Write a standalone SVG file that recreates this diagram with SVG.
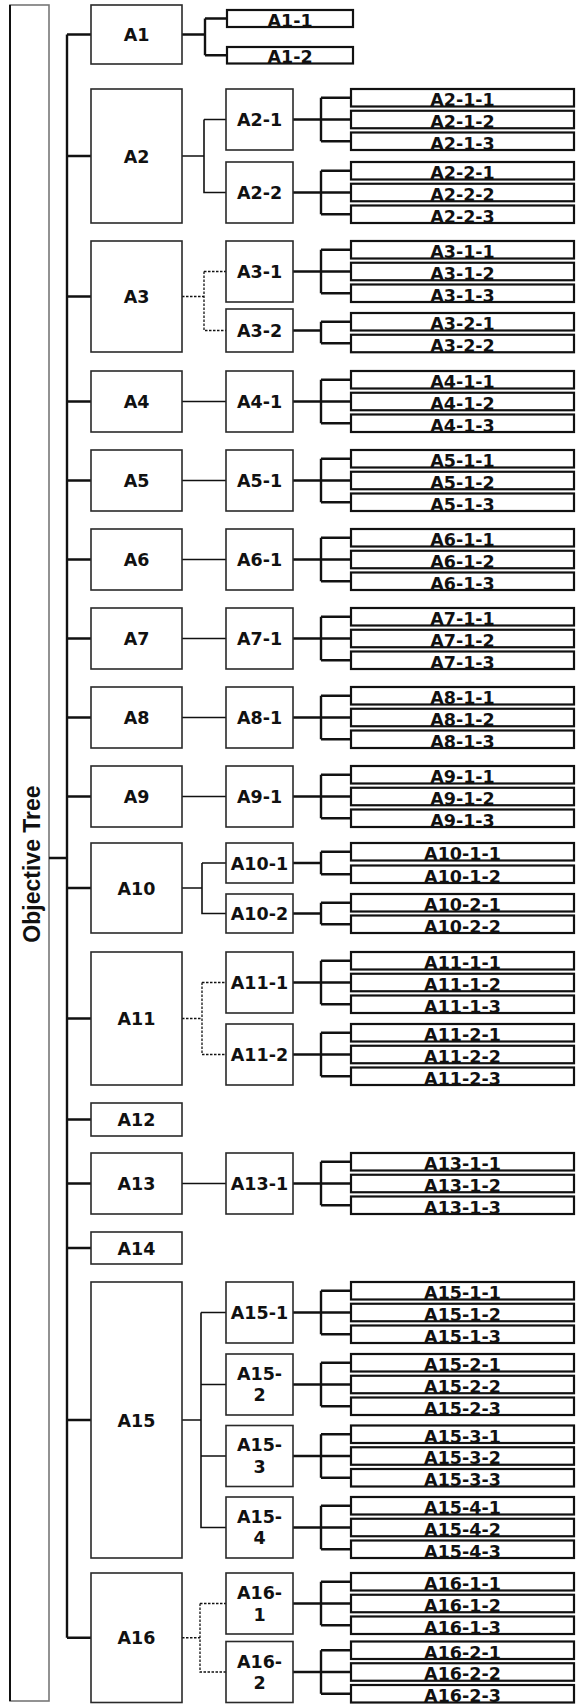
<svg xmlns="http://www.w3.org/2000/svg" width="576" height="1704" viewBox="0 0 576 1704">
<style>
.bx{fill:#fff;stroke:#2a2a2a;stroke-width:1.6}
.lf{fill:#fff;stroke:#111;stroke-width:2.2}
.t{font-family:"DejaVu Sans","Liberation Sans",sans-serif;font-weight:bold;font-size:17.5px;text-anchor:middle;fill:#111}
.tl{font-family:"DejaVu Sans","Liberation Sans",sans-serif;font-weight:bold;font-size:17.5px;text-anchor:middle;fill:#111}
.k{fill:none;stroke:#111;stroke-width:2.4}
.s{fill:none;stroke:#111;stroke-width:1.6}
.d{fill:none;stroke:#111;stroke-width:1.3;stroke-dasharray:2.5 1.5}
</style>
<rect width="576" height="1704" fill="#fff"/>
<g id="root">
<rect x="10" y="5" width="39" height="1696" fill="#fff" stroke="#777" stroke-width="1.6"/>
<line x1="10" y1="5" x2="10" y2="1701" stroke="#111" stroke-width="2"/>
<text transform="translate(40,864) rotate(-90)" font-family="Liberation Sans, Arial, sans-serif" font-weight="bold" font-size="23" text-anchor="middle" fill="#111">Objective Tree</text>
</g>
<g id="connectors">
<path class="k" d="M67 34.5V1637.75M49 858H67M67 34.5H91M67 156H91M67 296.5H91M67 401.5H91M67 480.5H91M67 559.5H91M67 638.5H91M67 717.5H91M67 796.5H91M67 888H91M67 1018.5H91M67 1119.5H91M67 1183.5H91M67 1248H91M67 1420H91M67 1637.75H91"/>
<path class="k" d="M182 34.5H205M205 18.5V55.25M205 18.5H227M205 55.25H227"/>
<path class="s" d="M182 156H204M204 119.5V192.5H226M204 119.5H226"/>
<path class="s" d="M182 401.5H226M182 480.5H226M182 559.5H226M182 638.5H226M182 717.5H226M182 796.5H226M182 1183.5H226"/>
<path class="s" d="M182 888H202M202 863V913.5H226M202 863H226"/>
<path class="s" d="M182 1420H201M201 1312.5V1527.5H226M201 1312.5H226M201 1384.5H226M201 1456H226"/>
<path class="d" d="M182 296.5H204M204 271.5V330.5H226M204 271.5H226"/>
<path class="d" d="M182 1018.5H202M202 982.5V1054.5H226M202 982.5H226"/>
<path class="d" d="M182 1637.75H200M200 1603.5V1672H226M200 1603.5H226"/>
<path class="k" d="M293 119.5H321M321 97.75V141.25M321 97.75H351M321 119.5H351M321 141.25H351
M293 192.5H321M321 170.75V214.25M321 170.75H351M321 192.5H351M321 214.25H351
M293 271.5H321M321 249.75V293.25M321 249.75H351M321 271.5H351M321 293.25H351
M293 330.5H321M321 321.75V343.25M321 321.75H351M321 343.25H351
M293 401.5H321M321 379.75V423.25M321 379.75H351M321 401.5H351M321 423.25H351
M293 480.5H321M321 458.75V502.25M321 458.75H351M321 480.5H351M321 502.25H351
M293 559.5H321M321 537.75V581.25M321 537.75H351M321 559.5H351M321 581.25H351
M293 638.5H321M321 616.75V660.25M321 616.75H351M321 638.5H351M321 660.25H351
M293 717.5H321M321 695.75V739.25M321 695.75H351M321 717.5H351M321 739.25H351
M293 796.5H321M321 774.75V818.25M321 774.75H351M321 796.5H351M321 818.25H351
M293 863H321M321 851.75V874.25M321 851.75H351M321 874.25H351
M293 913.5H321M321 902.75V924.25M321 902.75H351M321 924.25H351
M293 982.5H321M321 960.75V1004.25M321 960.75H351M321 982.5H351M321 1004.25H351
M293 1054.5H321M321 1032.75V1076.25M321 1032.75H351M321 1054.5H351M321 1076.25H351
M293 1183.5H321M321 1161.75V1205.25M321 1161.75H351M321 1183.5H351M321 1205.25H351
M293 1312.5H321M321 1290.75V1334.25M321 1290.75H351M321 1312.5H351M321 1334.25H351
M293 1384.5H321M321 1362.75V1406.25M321 1362.75H351M321 1384.5H351M321 1406.25H351
M293 1456H321M321 1434.25V1477.75M321 1434.25H351M321 1456H351M321 1477.75H351
M293 1527.5H321M321 1505.75V1549.25M321 1505.75H351M321 1527.5H351M321 1549.25H351
M293 1603.5H321M321 1581.75V1625.25M321 1581.75H351M321 1603.5H351M321 1625.25H351
M293 1672H321M321 1650.25V1693.75M321 1650.25H351M321 1672H351M321 1693.75H351"/>
</g>
<g id="A1"><rect class="bx" x="91" y="5" width="91" height="59"/><text class="t" x="136.5" y="41">A1</text></g>
<g id="A1-1"><rect class="lf" x="227" y="10" width="126" height="17"/><text class="tl" x="290" y="26.5">A1-1</text></g>
<g id="A1-2"><rect class="lf" x="227" y="47" width="126" height="16.5"/><text class="tl" x="290" y="63">A1-2</text></g>

<g id="A2"><rect class="bx" x="91" y="89" width="91" height="134"/><text class="t" x="136.5" y="162.5">A2</text></g>
<g id="A2-1"><rect class="bx" x="226" y="89" width="67" height="61"/><text class="t" x="259.5" y="126">A2-1</text></g>
<g id="A2-1-1"><rect class="lf" x="351" y="89" width="223" height="17.5"/><text class="tl" x="462.5" y="106">A2-1-1</text></g>
<g id="A2-1-2"><rect class="lf" x="351" y="110.75" width="223" height="17.5"/><text class="tl" x="462.5" y="127.75">A2-1-2</text></g>
<g id="A2-1-3"><rect class="lf" x="351" y="132.5" width="223" height="17.5"/><text class="tl" x="462.5" y="149.5">A2-1-3</text></g>
<g id="A2-2"><rect class="bx" x="226" y="162" width="67" height="61"/><text class="t" x="259.5" y="199">A2-2</text></g>
<g id="A2-2-1"><rect class="lf" x="351" y="162" width="223" height="17.5"/><text class="tl" x="462.5" y="179">A2-2-1</text></g>
<g id="A2-2-2"><rect class="lf" x="351" y="183.75" width="223" height="17.5"/><text class="tl" x="462.5" y="200.75">A2-2-2</text></g>
<g id="A2-2-3"><rect class="lf" x="351" y="205.5" width="223" height="17.5"/><text class="tl" x="462.5" y="222.5">A2-2-3</text></g>

<g id="A3"><rect class="bx" x="91" y="241" width="91" height="111"/><text class="t" x="136.5" y="303">A3</text></g>
<g id="A3-1"><rect class="bx" x="226" y="241" width="67" height="61"/><text class="t" x="259.5" y="278">A3-1</text></g>
<g id="A3-1-1"><rect class="lf" x="351" y="241" width="223" height="17.5"/><text class="tl" x="462.5" y="258">A3-1-1</text></g>
<g id="A3-1-2"><rect class="lf" x="351" y="262.75" width="223" height="17.5"/><text class="tl" x="462.5" y="279.75">A3-1-2</text></g>
<g id="A3-1-3"><rect class="lf" x="351" y="284.5" width="223" height="17.5"/><text class="tl" x="462.5" y="301.5">A3-1-3</text></g>
<g id="A3-2"><rect class="bx" x="226" y="309" width="67" height="43"/><text class="t" x="259.5" y="337">A3-2</text></g>
<g id="A3-2-1"><rect class="lf" x="351" y="313" width="223" height="17.5"/><text class="tl" x="462.5" y="330">A3-2-1</text></g>
<g id="A3-2-2"><rect class="lf" x="351" y="334.75" width="223" height="17.5"/><text class="tl" x="462.5" y="351.75">A3-2-2</text></g>

<g id="A4"><rect class="bx" x="91" y="371" width="91" height="61"/><text class="t" x="136.5" y="408">A4</text></g>
<g id="A4-1"><rect class="bx" x="226" y="371" width="67" height="61"/><text class="t" x="259.5" y="408">A4-1</text></g>
<g id="A4-1-1"><rect class="lf" x="351" y="371" width="223" height="17.5"/><text class="tl" x="462.5" y="388">A4-1-1</text></g>
<g id="A4-1-2"><rect class="lf" x="351" y="392.75" width="223" height="17.5"/><text class="tl" x="462.5" y="409.75">A4-1-2</text></g>
<g id="A4-1-3"><rect class="lf" x="351" y="414.5" width="223" height="17.5"/><text class="tl" x="462.5" y="431.5">A4-1-3</text></g>

<g id="A5"><rect class="bx" x="91" y="450" width="91" height="61"/><text class="t" x="136.5" y="487">A5</text></g>
<g id="A5-1"><rect class="bx" x="226" y="450" width="67" height="61"/><text class="t" x="259.5" y="487">A5-1</text></g>
<g id="A5-1-1"><rect class="lf" x="351" y="450" width="223" height="17.5"/><text class="tl" x="462.5" y="467">A5-1-1</text></g>
<g id="A5-1-2"><rect class="lf" x="351" y="471.75" width="223" height="17.5"/><text class="tl" x="462.5" y="488.75">A5-1-2</text></g>
<g id="A5-1-3"><rect class="lf" x="351" y="493.5" width="223" height="17.5"/><text class="tl" x="462.5" y="510.5">A5-1-3</text></g>

<g id="A6"><rect class="bx" x="91" y="529" width="91" height="61"/><text class="t" x="136.5" y="566">A6</text></g>
<g id="A6-1"><rect class="bx" x="226" y="529" width="67" height="61"/><text class="t" x="259.5" y="566">A6-1</text></g>
<g id="A6-1-1"><rect class="lf" x="351" y="529" width="223" height="17.5"/><text class="tl" x="462.5" y="546">A6-1-1</text></g>
<g id="A6-1-2"><rect class="lf" x="351" y="550.75" width="223" height="17.5"/><text class="tl" x="462.5" y="567.75">A6-1-2</text></g>
<g id="A6-1-3"><rect class="lf" x="351" y="572.5" width="223" height="17.5"/><text class="tl" x="462.5" y="589.5">A6-1-3</text></g>

<g id="A7"><rect class="bx" x="91" y="608" width="91" height="61"/><text class="t" x="136.5" y="645">A7</text></g>
<g id="A7-1"><rect class="bx" x="226" y="608" width="67" height="61"/><text class="t" x="259.5" y="645">A7-1</text></g>
<g id="A7-1-1"><rect class="lf" x="351" y="608" width="223" height="17.5"/><text class="tl" x="462.5" y="625">A7-1-1</text></g>
<g id="A7-1-2"><rect class="lf" x="351" y="629.75" width="223" height="17.5"/><text class="tl" x="462.5" y="646.75">A7-1-2</text></g>
<g id="A7-1-3"><rect class="lf" x="351" y="651.5" width="223" height="17.5"/><text class="tl" x="462.5" y="668.5">A7-1-3</text></g>

<g id="A8"><rect class="bx" x="91" y="687" width="91" height="61"/><text class="t" x="136.5" y="724">A8</text></g>
<g id="A8-1"><rect class="bx" x="226" y="687" width="67" height="61"/><text class="t" x="259.5" y="724">A8-1</text></g>
<g id="A8-1-1"><rect class="lf" x="351" y="687" width="223" height="17.5"/><text class="tl" x="462.5" y="704">A8-1-1</text></g>
<g id="A8-1-2"><rect class="lf" x="351" y="708.75" width="223" height="17.5"/><text class="tl" x="462.5" y="725.75">A8-1-2</text></g>
<g id="A8-1-3"><rect class="lf" x="351" y="730.5" width="223" height="17.5"/><text class="tl" x="462.5" y="747.5">A8-1-3</text></g>

<g id="A9"><rect class="bx" x="91" y="766" width="91" height="61"/><text class="t" x="136.5" y="803">A9</text></g>
<g id="A9-1"><rect class="bx" x="226" y="766" width="67" height="61"/><text class="t" x="259.5" y="803">A9-1</text></g>
<g id="A9-1-1"><rect class="lf" x="351" y="766" width="223" height="17.5"/><text class="tl" x="462.5" y="783">A9-1-1</text></g>
<g id="A9-1-2"><rect class="lf" x="351" y="787.75" width="223" height="17.5"/><text class="tl" x="462.5" y="804.75">A9-1-2</text></g>
<g id="A9-1-3"><rect class="lf" x="351" y="809.5" width="223" height="17.5"/><text class="tl" x="462.5" y="826.5">A9-1-3</text></g>

<g id="A10"><rect class="bx" x="91" y="843" width="91" height="90"/><text class="t" x="136.5" y="894.5">A10</text></g>
<g id="A10-1"><rect class="bx" x="226" y="843" width="67" height="40"/><text class="t" x="259.5" y="869.5">A10-1</text></g>
<g id="A10-1-1"><rect class="lf" x="351" y="843" width="223" height="17.5"/><text class="tl" x="462.5" y="860">A10-1-1</text></g>
<g id="A10-1-2"><rect class="lf" x="351" y="865.5" width="223" height="17.5"/><text class="tl" x="462.5" y="882.5">A10-1-2</text></g>
<g id="A10-2"><rect class="bx" x="226" y="894" width="67" height="39"/><text class="t" x="259.5" y="920">A10-2</text></g>
<g id="A10-2-1"><rect class="lf" x="351" y="894" width="223" height="17.5"/><text class="tl" x="462.5" y="911">A10-2-1</text></g>
<g id="A10-2-2"><rect class="lf" x="351" y="915.5" width="223" height="17.5"/><text class="tl" x="462.5" y="932.5">A10-2-2</text></g>

<g id="A11"><rect class="bx" x="91" y="952" width="91" height="133"/><text class="t" x="136.5" y="1025">A11</text></g>
<g id="A11-1"><rect class="bx" x="226" y="952" width="67" height="61"/><text class="t" x="259.5" y="989">A11-1</text></g>
<g id="A11-1-1"><rect class="lf" x="351" y="952" width="223" height="17.5"/><text class="tl" x="462.5" y="969">A11-1-1</text></g>
<g id="A11-1-2"><rect class="lf" x="351" y="973.75" width="223" height="17.5"/><text class="tl" x="462.5" y="990.75">A11-1-2</text></g>
<g id="A11-1-3"><rect class="lf" x="351" y="995.5" width="223" height="17.5"/><text class="tl" x="462.5" y="1012.5">A11-1-3</text></g>
<g id="A11-2"><rect class="bx" x="226" y="1024" width="67" height="61"/><text class="t" x="259.5" y="1061">A11-2</text></g>
<g id="A11-2-1"><rect class="lf" x="351" y="1024" width="223" height="17.5"/><text class="tl" x="462.5" y="1041">A11-2-1</text></g>
<g id="A11-2-2"><rect class="lf" x="351" y="1045.75" width="223" height="17.5"/><text class="tl" x="462.5" y="1062.75">A11-2-2</text></g>
<g id="A11-2-3"><rect class="lf" x="351" y="1067.5" width="223" height="17.5"/><text class="tl" x="462.5" y="1084.5">A11-2-3</text></g>

<g id="A12"><rect class="bx" x="91" y="1103" width="91" height="33"/><text class="t" x="136.5" y="1126">A12</text></g>

<g id="A13"><rect class="bx" x="91" y="1153" width="91" height="61"/><text class="t" x="136.5" y="1190">A13</text></g>
<g id="A13-1"><rect class="bx" x="226" y="1153" width="67" height="61"/><text class="t" x="259.5" y="1190">A13-1</text></g>
<g id="A13-1-1"><rect class="lf" x="351" y="1153" width="223" height="17.5"/><text class="tl" x="462.5" y="1170">A13-1-1</text></g>
<g id="A13-1-2"><rect class="lf" x="351" y="1174.75" width="223" height="17.5"/><text class="tl" x="462.5" y="1191.75">A13-1-2</text></g>
<g id="A13-1-3"><rect class="lf" x="351" y="1196.5" width="223" height="17.5"/><text class="tl" x="462.5" y="1213.5">A13-1-3</text></g>

<g id="A14"><rect class="bx" x="91" y="1232" width="91" height="32"/><text class="t" x="136.5" y="1254.5">A14</text></g>

<g id="A15"><rect class="bx" x="91" y="1282" width="91" height="276"/><text class="t" x="136.5" y="1426.5">A15</text></g>
<g id="A15-1"><rect class="bx" x="226" y="1282" width="67" height="61"/><text class="t" x="259.5" y="1319">A15-1</text></g>
<g id="A15-1-1"><rect class="lf" x="351" y="1282" width="223" height="17.5"/><text class="tl" x="462.5" y="1299">A15-1-1</text></g>
<g id="A15-1-2"><rect class="lf" x="351" y="1303.75" width="223" height="17.5"/><text class="tl" x="462.5" y="1320.75">A15-1-2</text></g>
<g id="A15-1-3"><rect class="lf" x="351" y="1325.5" width="223" height="17.5"/><text class="tl" x="462.5" y="1342.5">A15-1-3</text></g>
<g id="A15-2"><rect class="bx" x="226" y="1354" width="67" height="61"/><text class="t" x="259.5" y="1379.5">A15-</text><text class="t" x="259.5" y="1401">2</text></g>
<g id="A15-2-1"><rect class="lf" x="351" y="1354" width="223" height="17.5"/><text class="tl" x="462.5" y="1371">A15-2-1</text></g>
<g id="A15-2-2"><rect class="lf" x="351" y="1375.75" width="223" height="17.5"/><text class="tl" x="462.5" y="1392.75">A15-2-2</text></g>
<g id="A15-2-3"><rect class="lf" x="351" y="1397.5" width="223" height="17.5"/><text class="tl" x="462.5" y="1414.5">A15-2-3</text></g>
<g id="A15-3"><rect class="bx" x="226" y="1425.5" width="67" height="61"/><text class="t" x="259.5" y="1451">A15-</text><text class="t" x="259.5" y="1472.5">3</text></g>
<g id="A15-3-1"><rect class="lf" x="351" y="1425.5" width="223" height="17.5"/><text class="tl" x="462.5" y="1442.5">A15-3-1</text></g>
<g id="A15-3-2"><rect class="lf" x="351" y="1447.25" width="223" height="17.5"/><text class="tl" x="462.5" y="1464.25">A15-3-2</text></g>
<g id="A15-3-3"><rect class="lf" x="351" y="1469" width="223" height="17.5"/><text class="tl" x="462.5" y="1486">A15-3-3</text></g>
<g id="A15-4"><rect class="bx" x="226" y="1497" width="67" height="61"/><text class="t" x="259.5" y="1522.5">A15-</text><text class="t" x="259.5" y="1544">4</text></g>
<g id="A15-4-1"><rect class="lf" x="351" y="1497" width="223" height="17.5"/><text class="tl" x="462.5" y="1514">A15-4-1</text></g>
<g id="A15-4-2"><rect class="lf" x="351" y="1518.75" width="223" height="17.5"/><text class="tl" x="462.5" y="1535.75">A15-4-2</text></g>
<g id="A15-4-3"><rect class="lf" x="351" y="1540.5" width="223" height="17.5"/><text class="tl" x="462.5" y="1557.5">A15-4-3</text></g>

<g id="A16"><rect class="bx" x="91" y="1573" width="91" height="129.5"/><text class="t" x="136.5" y="1644">A16</text></g>
<g id="A16-1"><rect class="bx" x="226" y="1573" width="67" height="61"/><text class="t" x="259.5" y="1599">A16-</text><text class="t" x="259.5" y="1620.5">1</text></g>
<g id="A16-1-1"><rect class="lf" x="351" y="1573" width="223" height="17.5"/><text class="tl" x="462.5" y="1590">A16-1-1</text></g>
<g id="A16-1-2"><rect class="lf" x="351" y="1594.75" width="223" height="17.5"/><text class="tl" x="462.5" y="1611.75">A16-1-2</text></g>
<g id="A16-1-3"><rect class="lf" x="351" y="1616.5" width="223" height="17.5"/><text class="tl" x="462.5" y="1633.5">A16-1-3</text></g>
<g id="A16-2"><rect class="bx" x="226" y="1641.5" width="67" height="61"/><text class="t" x="259.5" y="1667.5">A16-</text><text class="t" x="259.5" y="1689">2</text></g>
<g id="A16-2-1"><rect class="lf" x="351" y="1641.5" width="223" height="17.5"/><text class="tl" x="462.5" y="1658.5">A16-2-1</text></g>
<g id="A16-2-2"><rect class="lf" x="351" y="1663.25" width="223" height="17.5"/><text class="tl" x="462.5" y="1680.25">A16-2-2</text></g>
<g id="A16-2-3"><rect class="lf" x="351" y="1685" width="223" height="17.5"/><text class="tl" x="462.5" y="1702">A16-2-3</text></g>
</svg>
